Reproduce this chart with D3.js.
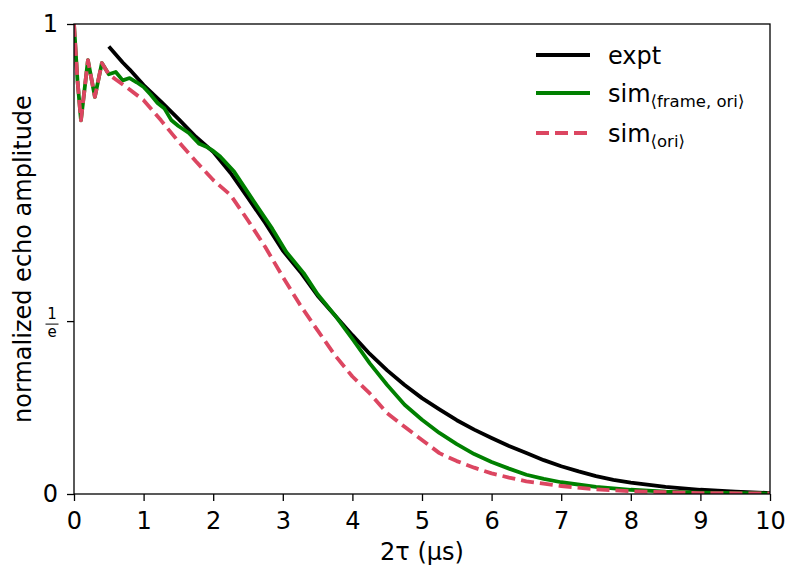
<!DOCTYPE html>
<html>
<head>
<meta charset="utf-8">
<script src="https://cdn.jsdelivr.net/npm/d3@7"></script>
<style>
  body { margin: 0; background: #fff; }
  svg { font-family: "DejaVu Sans", sans-serif; }
</style>
</head>
<body>
<svg id="chart" width="787" height="566"></svg>
<script>
// Measured echo decay (starts at 2τ = 0.5 µs)
const exptX = [0.5, 0.6, 0.7, 0.8, 1.0, 1.25, 1.5, 1.75, 2.0, 2.25, 2.5, 2.75, 3.0, 3.25, 3.5, 3.75, 4.0, 4.25, 4.5, 4.75, 5.0, 5.25, 5.5, 5.75, 6.0, 6.25, 6.5, 6.75, 7.0, 7.25, 7.5, 7.75, 8.0, 8.5, 9.0, 9.5, 10.0];
const exptY = [0.952, 0.935, 0.918, 0.903, 0.870, 0.835, 0.798, 0.760, 0.728, 0.683, 0.630, 0.576, 0.518, 0.473, 0.422, 0.380, 0.338, 0.298, 0.263, 0.232, 0.204, 0.180, 0.157, 0.137, 0.119, 0.102, 0.087, 0.072, 0.059, 0.048, 0.038, 0.030, 0.024, 0.015, 0.009, 0.005, 0.002];

// Simulation averaged over frames and orientations
const simFrameX = [0, 0.05, 0.1, 0.2, 0.3, 0.4, 0.5, 0.6, 0.7, 0.8, 0.9, 1.0, 1.1, 1.2, 1.3, 1.4, 1.5, 1.65, 1.8, 1.9, 2.0, 2.1, 2.3, 2.55, 2.85, 3.05, 3.3, 3.5, 3.75, 4.0, 4.25, 4.5, 4.75, 5.0, 5.25, 5.5, 5.75, 6.0, 6.25, 6.5, 6.75, 7.0, 7.5, 8.0, 8.5, 9.0, 10.0];
const simFrameY = [1.0, 0.88, 0.795, 0.923, 0.845, 0.917, 0.893, 0.898, 0.880, 0.885, 0.876, 0.866, 0.850, 0.832, 0.820, 0.795, 0.783, 0.768, 0.745, 0.739, 0.730, 0.718, 0.686, 0.630, 0.564, 0.515, 0.470, 0.425, 0.380, 0.330, 0.278, 0.232, 0.190, 0.158, 0.130, 0.106, 0.085, 0.068, 0.054, 0.041, 0.032, 0.025, 0.015, 0.009, 0.005, 0.003, 0.001];

// Simulation averaged over orientations only
const simOriX = [0, 0.05, 0.1, 0.2, 0.3, 0.4, 0.5, 0.6, 0.75, 1.0, 1.25, 1.5, 1.75, 2.0, 2.25, 2.5, 2.75, 3.0, 3.25, 3.5, 3.75, 4.0, 4.25, 4.5, 4.75, 5.0, 5.25, 5.5, 5.75, 6.0, 6.25, 6.5, 7.0, 7.5, 8.0, 8.5, 9.0, 10.0];
const simOriY = [1.0, 0.88, 0.795, 0.923, 0.845, 0.917, 0.893, 0.882, 0.866, 0.838, 0.795, 0.750, 0.708, 0.668, 0.636, 0.582, 0.525, 0.462, 0.402, 0.348, 0.295, 0.250, 0.214, 0.172, 0.143, 0.115, 0.087, 0.070, 0.056, 0.044, 0.035, 0.027, 0.017, 0.010, 0.006, 0.004, 0.002, 0.001];

const xTicks = [0, 1, 2, 3, 4, 5, 6, 7, 8, 9, 10];
const yTicks = [0, 1 / Math.E, 1];

const seriesNames = ["expt", "sim", "sim"];
const seriesSubs = ["", "\u27E8frame, ori\u27E9", "\u27E8ori\u27E9"];
const seriesColors = ["#000000", "#008000", "#dc4661"];
const seriesDash = [null, null, "13,6"];

const svg = d3.select("#chart");
const m = { left: 74, right: 17, top: 24, bottom: 72 };
const W = 787, H = 566;
const FS = 24;

const x = d3.scaleLinear().domain([0, 10]).range([m.left, W - m.right]);
const y = d3.scaleLinear().domain([0, 1]).range([H - m.bottom, m.top]);

// clip plot area
svg.append("defs").append("clipPath").attr("id", "plotclip")
  .append("rect").attr("x", m.left).attr("y", m.top)
  .attr("width", W - m.left - m.right).attr("height", H - m.top - m.bottom);

const line = d3.line().x(d => x(d[0])).y(d => y(d[1]));
const series = [
  d3.zip(exptX, exptY),
  d3.zip(simFrameX, simFrameY),
  d3.zip(simOriX, simOriY)
];

const plot = svg.append("g").attr("clip-path", "url(#plotclip)");
series.forEach((s, i) => {
  plot.append("path")
    .attr("d", line(s))
    .attr("fill", "none")
    .attr("stroke", seriesColors[i])
    .attr("stroke-width", 3.8)
    .attr("stroke-linejoin", "round")
    .attr("stroke-dasharray", seriesDash[i]);
});

// axes
const xAxis = svg.append("g")
  .attr("transform", `translate(0,${H - m.bottom})`)
  .call(d3.axisBottom(x).tickValues(xTicks).tickFormat(d3.format("d")).tickSizeOuter(0).tickSize(7).tickPadding(11));
xAxis.selectAll("text").attr("font-size", FS).attr("font-family", "DejaVu Sans").attr("fill", "#000");

const yAxis = svg.append("g")
  .attr("transform", `translate(${m.left},0)`)
  .call(d3.axisLeft(y).tickValues(yTicks).tickFormat(d => (d === 0 ? "0" : d === 1 ? "1" : "")).tickSizeOuter(0).tickSize(7).tickPadding(9));
yAxis.selectAll("text").attr("font-size", FS).attr("font-family", "DejaVu Sans").attr("fill", "#000");
[xAxis, yAxis].forEach(a => {
  a.select(".domain").remove();
  a.selectAll("line").attr("stroke", "#000").attr("stroke-width", 1.3);
});

// 1/e fraction label
const fe = svg.append("g").attr("transform", `translate(52,${y(1 / Math.E)})`)
  .attr("font-family", "DejaVu Sans").attr("font-size", 15).attr("text-anchor", "middle");
fe.append("text").attr("y", -2).text("1");
fe.append("line").attr("x1", -6.5).attr("x2", 6.5).attr("y1", 3).attr("y2", 3).attr("stroke", "#000").attr("stroke-width", 1);
fe.append("text").attr("y", 16).text("e");

// frame
svg.append("rect")
  .attr("x", m.left).attr("y", m.top)
  .attr("width", W - m.left - m.right).attr("height", H - m.top - m.bottom)
  .attr("fill", "none").attr("stroke", "#000").attr("stroke-width", 1.3);

// axis titles
svg.append("text")
  .attr("x", (m.left + W - m.right) / 2).attr("y", 560)
  .attr("text-anchor", "middle").attr("font-size", FS)
  .text("2\u03C4 (\u03BCs)");
svg.append("text")
  .attr("transform", `translate(31,${(m.top + H - m.bottom) / 2}) rotate(-90)`)
  .attr("text-anchor", "middle").attr("font-size", FS)
  .text("normalized echo amplitude");

// legend
const leg = svg.append("g").attr("transform", "translate(536,55)");
seriesNames.forEach((name, i) => {
  const g = leg.append("g").attr("transform", `translate(0,${[0, 38, 78][i]})`);
  g.append("line").attr("x1", 0).attr("x2", 54).attr("y1", 0).attr("y2", 0)
    .attr("stroke", seriesColors[i]).attr("stroke-width", 3.8)
    .attr("stroke-dasharray", seriesDash[i]);
  const t = g.append("text").attr("x", 72).attr("y", 9).attr("font-size", FS);
  t.append("tspan").text(name);
  if (seriesSubs[i]) {
    t.append("tspan").attr("dy", 5).attr("font-size", 16.5).text(seriesSubs[i]);
  }
});
</script>
</body>
</html>
